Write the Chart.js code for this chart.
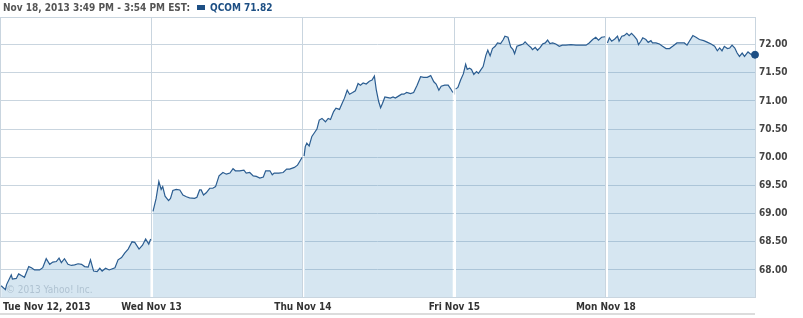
<!DOCTYPE html>
<html>
<head>
<meta charset="utf-8">
<script src="https://cdn.jsdelivr.net/npm/chart.js@4.4.0/dist/chart.umd.min.js"></script>
<style>
  body { margin: 0; background: #fff; }
  #wrap { position: relative; width: 803px; height: 318px; }
  #grafico { position: absolute; left: 0; top: 0; }
  #titulo { position: absolute; left: 3px; top: 2px; font: bold 10px "DejaVu Sans Condensed", sans-serif; color: #555; white-space: nowrap; }
  #titulo .cuadro { display: inline-block; width: 8px; height: 5px; background: #1d4f84; margin: 0 5px 1px 7px; vertical-align: middle; }
  #titulo .serie { color: #1d4f84; }
</style>
</head>
<body>
<div id="wrap">
  <canvas id="grafico" width="803" height="318"></canvas>
  <div id="titulo">Nov 18, 2013 3:49 PM - 3:54 PM EST:<span class="cuadro"></span><span class="serie">QCOM 71.82</span></div>
</div>
<script>
// Etiquetas de cada sesion (minutos desde la apertura, 390 por sesion)
const dias = ['Tue Nov 12, 2013', 'Wed Nov 13', 'Thu Nov 14', 'Fri Nov 15', 'Mon Nov 18'];
const minutosSesion = 390;
const minutoFinal = 4 * 390 + 384; // 3:54 PM del lunes
const ticksY = [68, 68.5, 69, 69.5, 70, 70.5, 71, 71.5, 72];

// Datos: minuto de la sesion y precio
const tueMin = [3, 14, 17, 29, 32, 42, 48, 55, 63, 74, 81, 89, 102, 110, 119, 128, 136, 145, 152, 158, 166, 175, 184, 192, 201, 210, 218, 227, 233, 241, 250, 257, 263, 272, 281, 296, 304, 313, 321, 330, 340, 347, 358, 367, 375, 383, 388];
const tuePrecio = [67.72, 67.65, 67.74, 67.91, 67.84, 67.85, 67.93, 67.90, 67.87, 68.06, 68.04, 68.00, 68.00, 68.04, 68.20, 68.10, 68.14, 68.15, 68.21, 68.13, 68.20, 68.10, 68.08, 68.09, 68.11, 68.10, 68.06, 68.05, 68.18, 67.98, 67.97, 68.03, 67.98, 68.03, 68.00, 68.04, 68.18, 68.22, 68.30, 68.37, 68.50, 68.49, 68.37, 68.44, 68.55, 68.46, 68.55];

const wedMin = [4, 12, 19, 25, 29, 35, 44, 49, 55, 64, 73, 81, 90, 98, 111, 117, 124, 128, 134, 141, 150, 158, 165, 174, 184, 193, 202, 210, 216, 227, 238, 244, 253, 262, 270, 279, 288, 294, 305, 311, 316, 328, 339, 348, 356, 368, 376, 382, 388];
const wedPrecio = [69.04, 69.27, 69.57, 69.43, 69.48, 69.31, 69.23, 69.27, 69.41, 69.43, 69.42, 69.33, 69.30, 69.28, 69.27, 69.29, 69.42, 69.42, 69.33, 69.37, 69.45, 69.45, 69.48, 69.67, 69.73, 69.70, 69.72, 69.80, 69.76, 69.76, 69.77, 69.72, 69.73, 69.67, 69.66, 69.63, 69.65, 69.76, 69.76, 69.69, 69.72, 69.72, 69.73, 69.79, 69.79, 69.82, 69.86, 69.93, 70.00];

const thuMin = [3, 6, 10, 16, 23, 30, 36, 42, 49, 58, 65, 71, 79, 85, 94, 101, 107, 114, 120, 128, 135, 142, 148, 155, 163, 171, 178, 184, 189, 195, 200, 205, 211, 219, 225, 232, 238, 247, 254, 260, 267, 277, 285, 294, 303, 311, 320, 329, 337, 343, 350, 356, 365, 374, 380, 386];
const thuPrecio = [70.02, 70.19, 70.25, 70.20, 70.37, 70.44, 70.50, 70.66, 70.69, 70.63, 70.69, 70.67, 70.81, 70.87, 70.85, 70.96, 71.05, 71.19, 71.12, 71.15, 71.18, 71.31, 71.28, 71.32, 71.30, 71.35, 71.37, 71.44, 71.19, 70.99, 70.88, 70.96, 71.07, 71.06, 71.05, 71.07, 71.05, 71.09, 71.12, 71.12, 71.15, 71.13, 71.15, 71.28, 71.43, 71.42, 71.42, 71.45, 71.34, 71.30, 71.19, 71.26, 71.28, 71.28, 71.22, 71.15];

const friMin = [3, 9, 16, 23, 29, 33, 39, 44, 50, 57, 62, 68, 74, 81, 86, 92, 98, 105, 111, 119, 126, 130, 138, 145, 151, 155, 161, 169, 177, 182, 190, 197, 201, 208, 214, 221, 227, 234, 240, 246, 253, 261, 270, 278, 287, 300, 313, 326, 339, 347, 356, 364, 371, 379, 388];
const friPrecio = [71.21, 71.24, 71.37, 71.48, 71.65, 71.56, 71.58, 71.56, 71.47, 71.52, 71.49, 71.55, 71.61, 71.81, 71.90, 71.80, 71.93, 71.97, 72.03, 72.02, 72.09, 72.15, 72.13, 71.96, 71.91, 71.84, 71.97, 71.99, 72.01, 72.05, 71.99, 71.95, 71.91, 71.95, 71.90, 71.95, 72.01, 72.03, 72.08, 72.02, 72.03, 72.01, 71.97, 71.99, 71.99, 72.00, 71.99, 71.99, 71.99, 72.03, 72.09, 72.13, 72.08, 72.13, 72.14];

const monMin = [4, 9, 15, 23, 30, 34, 41, 47, 54, 60, 66, 73, 80, 84, 90, 95, 103, 109, 116, 120, 129, 138, 146, 155, 164, 172, 183, 194, 202, 209, 215, 224, 232, 241, 252, 262, 271, 280, 287, 293, 299, 305, 313, 319, 325, 332, 338, 344, 351, 357, 366, 373, 379, 384];
const monPrecio = [72.03, 72.12, 72.06, 72.10, 72.15, 72.06, 72.15, 72.16, 72.20, 72.16, 72.20, 72.15, 72.09, 72.00, 72.06, 72.12, 72.09, 72.04, 72.07, 72.03, 72.03, 72.01, 71.97, 71.93, 71.93, 71.97, 72.03, 72.03, 72.03, 71.99, 72.06, 72.16, 72.13, 72.09, 72.07, 72.04, 72.01, 71.97, 71.89, 71.94, 71.89, 71.97, 71.93, 71.94, 71.99, 71.94, 71.85, 71.79, 71.85, 71.79, 71.87, 71.83, 71.82, 71.82];

const sesiones = [[tueMin, tuePrecio], [wedMin, wedPrecio], [thuMin, thuPrecio], [friMin, friPrecio], [monMin, monPrecio]];

const fuente = '"DejaVu Sans Condensed", sans-serif';
const colorRejilla = '#c9d5df';
const ultimo = sesiones.length - 1;

// Un dataset por sesion para que quede el hueco entre dias
const datasets = sesiones.map(([minutos, precios], d) => ({
    data: minutos.map((m, i) => ({ x: d * minutosSesion + m, y: precios[i] })),
    borderColor: '#2b5d91',
    borderWidth: 1.2,
    backgroundColor: 'rgba(70, 140, 190, 0.22)',
    fill: 'start',
    tension: 0,
    clip: d === ultimo ? false : undefined,
    pointRadius: ctx => (d === ultimo && ctx.dataIndex === minutos.length - 1) ? 3.5 : 0,
    pointBackgroundColor: '#1d4f84',
    pointBorderColor: '#1d4f84',
    pointBorderWidth: 1
}));

// Marco del area y separadores blancos entre sesiones
const separadores = {
    id: 'separadores',
    beforeDatasetsDraw(chart) {
        const { ctx, chartArea: a } = chart;
        ctx.save();
        ctx.strokeStyle = colorRejilla;
        ctx.lineWidth = 1;
        ctx.strokeRect(a.left + 0.5, a.top + 0.5, a.right - a.left, a.bottom - a.top);
        ctx.restore();
    },
    afterDatasetDraw(chart, args) {
        if (args.index !== ultimo - 1) return;
        const { ctx, chartArea: a, scales: { x, y } } = chart;
        ctx.save();
        ctx.strokeStyle = '#ffffff';
        ctx.lineWidth = 2;
        for (let i = 1; i < sesiones.length; i++) {
            const previo = sesiones[i - 1][1];
            const siguiente = sesiones[i][1];
            const tope = Math.max(y.getPixelForValue(previo[previo.length - 1]), y.getPixelForValue(siguiente[0]));
            const px = Math.round(x.getPixelForValue(i * minutosSesion)) + 1;
            ctx.beginPath();
            ctx.moveTo(px, a.bottom);
            ctx.lineTo(px, tope + 2);
            ctx.stroke();
        }
        ctx.restore();
    }
};

// Etiquetas de dias, marca de agua y barra inferior
const decoracion = {
    id: 'decoracion',
    afterDraw(chart) {
        const { ctx, chartArea: a, scales: { x } } = chart;
        ctx.save();
        ctx.fillStyle = '#333';
        ctx.font = 'bold 10px ' + fuente;
        ctx.textBaseline = 'middle';
        dias.forEach((dia, i) => {
            const px = x.getPixelForValue(i * minutosSesion);
            ctx.textAlign = i === 0 ? 'left' : 'center';
            ctx.fillText(dia, i === 0 ? px + 3 : px, a.bottom + 10);
        });

        ctx.fillStyle = '#b0c3d2';
        ctx.font = '10px ' + fuente;
        ctx.textAlign = 'left';
        ctx.fillText('\u00a9 2013 Yahoo! Inc.', a.left + 6, a.bottom - 7);

        ctx.fillStyle = '#dcdcdc';
        ctx.fillRect(0, a.bottom + 16, a.right, 2);
        ctx.restore();
    }
};

new Chart(document.getElementById('grafico'), {
    type: 'line',
    data: { datasets },
    options: {
        responsive: false,
        animation: false,
        layout: { autoPadding: false, padding: { top: 17, left: 0, right: 0, bottom: 0 } },
        plugins: { legend: { display: false }, tooltip: { enabled: false } },
        scales: {
            x: {
                type: 'linear',
                min: 0,
                max: minutoFinal,
                afterBuildTicks: s => { s.ticks = [1, 2, 3, 4].map(i => ({ value: i * minutosSesion })); },
                afterFit: s => { s.height = 21; },
                ticks: { display: false },
                grid: { color: colorRejilla, drawTicks: false },
                border: { display: false }
            },
            y: {
                position: 'right',
                min: 67.52,
                max: 72.49,
                afterBuildTicks: s => { s.ticks = ticksY.map(v => ({ value: v })); },
                afterFit: s => { s.width = 48; },
                ticks: {
                    padding: 4,
                    color: '#444',
                    font: { family: fuente, weight: 'bold', size: 10 },
                    callback: v => v.toFixed(2)
                },
                grid: { color: colorRejilla, drawTicks: false },
                border: { display: false }
            }
        }
    },
    plugins: [separadores, decoracion]
});
</script>
</body>
</html>
